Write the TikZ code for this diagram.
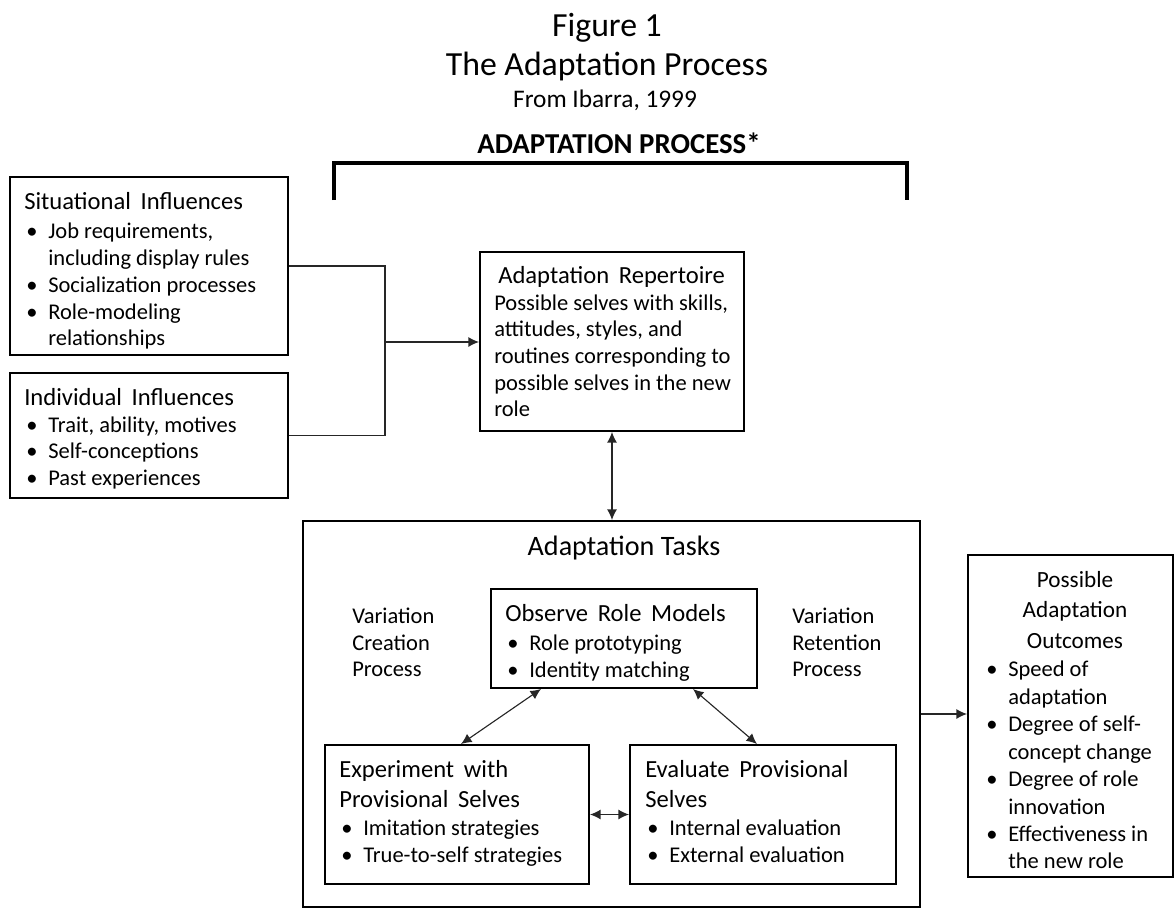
\documentclass[tikz,border=0pt]{standalone}
\usepackage{fontspec}
\setmainfont{Carlito}
\usetikzlibrary{calc}
\usetikzlibrary{fit}
\usetikzlibrary{arrows.meta}

\newcommand{\hd}[1]{{\fontsize{17.5}{19}\selectfont #1}}
\newcommand{\bu}{\hspace*{0.05cm}\makebox[0.55cm][l]{\textbullet}}
\newcommand{\nx}{\hspace*{0.6cm}}

\begin{document}
\begin{tikzpicture}[x=0.025cm, y=-0.025cm, >={Latex[length=7.5pt,width=7pt]},
  box/.style={draw, line width=1.4pt, inner sep=0},
  txt/.style={inner sep=0, anchor=north west, align=left, font=\fontsize{16}{19}\selectfont},
  link/.style={draw=black!85, line width=0.8pt}]
\useasboundingbox (0,0) rectangle (1176,909);

\node[anchor=base, font=\fontsize{24}{28}\selectfont] (fig) at (607,36) {Figure 1};
\node[anchor=base, font=\fontsize{24}{28}\selectfont] (ttl) at (607,75) {The Adaptation Process};
\node[anchor=base, font=\fontsize{18}{22}\selectfont] (src) at (605,107) {From Ibarra, 1999};
\node[anchor=base, font=\fontsize{20.5}{24}\selectfont\bfseries] (proc) at (619,153) {ADAPTATION PROCESS*};
\draw[line width=3.5pt] (334,200) |- (907,163) -- (907,200);

% influences
\node[box, fit={(10,177) (288,355)}] (sit) {};
\node[txt] (sittx) at (24,192) {\hd{Situational\, Influences}\\[2pt]
  \bu Job requirements,\\ \nx including display rules\\ \bu Socialization processes\\
  \bu Role-modeling\\ \nx relationships};
\node[box, fit={(10,373) (288,498)}] (ind) {};
\node[txt] (indtx) at (24,388) {\hd{Individual\, Influences}\\
  \bu Trait, ability, motives\\ \bu Self-conceptions\\ \bu Past experiences};

\node[box, fit={(480,252) (744,431)}] (rep) {};
\node[txt] (reptx) at (494,266) {\hspace*{0.1cm}\hd{Adaptation\, Repertoire}\\
  Possible selves with skills,\\ attitudes, styles, and\\ routines corresponding to\\
  possible selves in the new\\ role};

% tasks
\node[box, fit={(303,521) (920,907)}] (tasks) {};
\node[anchor=base, font=\fontsize{20}{24}\selectfont] (tasktl) at (624,555) {Adaptation Tasks};
\node[txt] (varc) at (352,607.5) {Variation\\ Creation\\ Process};
\node[txt] (varr) at (792,607.5) {Variation\\ Retention\\ Process};

\node[box, fit={(491,589) (757,688)}] (obs) {};
\node[txt] (obstx) at (505,604) {\hd{Observe\, Role\, Models}\\[2pt]
  \bu Role prototyping\\ \bu Identity matching};
\node[box, fit={(325,745) (589,884)}] (exp) {};
\node[txt] (exptx) at (339,760) {\hd{Experiment\, with}\\[2.3pt] \hd{Provisional\, Selves}\\[1pt]
  \bu Imitation strategies\\ \bu True-to-self strategies};
\node[box, fit={(630,745) (896,884)}] (eva) {};
\node[txt] (evatx) at (645,760) {\hd{Evaluate\, Provisional}\\[2.3pt] \hd{Selves}\\[1pt]
  \bu Internal evaluation\\ \bu External evaluation};

% outcomes
\node[box, fit={(968,555) (1173,877)}] (out) {};
\node[anchor=north, inner sep=0, align=center, font=\fontsize{16.5}{21.7}\selectfont] (outhd)
  at (1075,571) {Possible\\ Adaptation\\ Outcomes};
\node[txt, font=\fontsize{16}{19.5}\selectfont] (outtx) at (984,661) {\bu Speed of\\ \nx adaptation\\
  \bu Degree of self-\\ \nx concept change\\ \bu Degree of role\\ \nx innovation\\
  \bu Effectiveness in\\ \nx the new role};

% connectors
\coordinate (jn) at (385,342);
\draw[link] (sit.east) -| (jn) |- (ind.east);
\draw[link, ->] (jn) -- (rep.west |- jn);
\draw[link, <->] (rep.south) -- (rep.south |- tasks.north);
\draw[link, <->] ($(obs.south west)+(51,0)$) -- ($(exp.north west)+(137,0)$);
\draw[link, <->] ($(obs.south east)+(-65,0)$) -- ($(eva.north west)+(128,0)$);
\draw[link, <->] (exp.east) -- (eva.west);
\draw[link, ->] (tasks.east) -- (out.west |- tasks.east);
\end{tikzpicture}
\end{document}
